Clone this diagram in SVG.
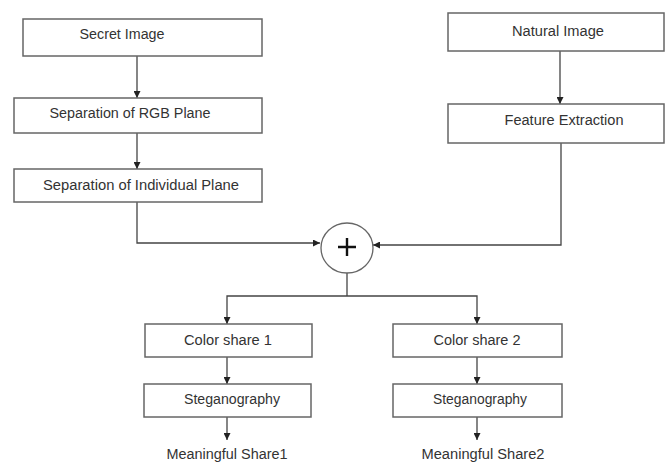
<svg xmlns="http://www.w3.org/2000/svg" width="665" height="462" viewBox="0 0 665 462">
<defs>
<marker id="ah" viewBox="0 0 10 10" refX="10" refY="5" markerWidth="7" markerHeight="7" markerUnits="userSpaceOnUse" orient="auto">
<path d="M0,0 L10,5 L0,10 z" fill="#222"/>
</marker>
<style>
.box{fill:#fff;stroke:#666;stroke-width:1.5}
.t{font-family:"Liberation Sans",Arial,sans-serif;font-size:14px;fill:#333;text-anchor:middle}
.c{fill:none;stroke:#444;stroke-width:1.3}
</style>
</defs>
<rect width="665" height="462" fill="#fff"/>
<g id="connectors">
<line class="c" x1="137" y1="56" x2="137" y2="98" marker-end="url(#ah)"/>
<line class="c" x1="137" y1="133" x2="137" y2="169" marker-end="url(#ah)"/>
<polyline class="c" points="137,202 137,243 320,243" marker-end="url(#ah)"/>
<line class="c" x1="560" y1="51" x2="560" y2="104" marker-end="url(#ah)"/>
<polyline class="c" points="561,143 561,245 373,245" marker-end="url(#ah)"/>
<line class="c" x1="347" y1="272" x2="347" y2="296"/>
<polyline class="c" points="347,296 227,296 227,324" marker-end="url(#ah)"/>
<polyline class="c" points="347,296 477,296 477,324" marker-end="url(#ah)"/>
<line class="c" x1="227" y1="357" x2="227" y2="384" marker-end="url(#ah)"/>
<line class="c" x1="477" y1="357" x2="477" y2="384" marker-end="url(#ah)"/>
<line class="c" x1="227" y1="417" x2="227" y2="440" marker-end="url(#ah)"/>
<line class="c" x1="477" y1="417" x2="477" y2="440" marker-end="url(#ah)"/>
</g>
<g id="secret"><rect class="box" x="23" y="19" width="239" height="37"/><text class="t" x="122" y="39" textLength="85" lengthAdjust="spacingAndGlyphs">Secret Image</text></g>
<g id="rgb"><rect class="box" x="14" y="98" width="248" height="35"/><text class="t" x="130" y="118" textLength="161" lengthAdjust="spacingAndGlyphs">Separation of RGB Plane</text></g>
<g id="individual"><rect class="box" x="14" y="169" width="248" height="33"/><text class="t" x="141" y="190" textLength="196" lengthAdjust="spacingAndGlyphs">Separation of Individual Plane</text></g>
<g id="natural"><rect class="box" x="448" y="13" width="216" height="38"/><text class="t" x="558" y="36" textLength="92" lengthAdjust="spacingAndGlyphs">Natural Image</text></g>
<g id="feature"><rect class="box" x="448" y="104" width="216" height="39"/><text class="t" x="564" y="125" textLength="119" lengthAdjust="spacingAndGlyphs">Feature Extraction</text></g>
<g id="sum"><ellipse cx="347" cy="248" rx="26" ry="25" fill="#fff" stroke="#666" stroke-width="1.3"/><path d="M338,247 H356 M347,238 V256" stroke="#111" stroke-width="2.4"/></g>
<g id="cs1"><rect class="box" x="145" y="324" width="167" height="33"/><text class="t" x="228" y="345" textLength="88" lengthAdjust="spacingAndGlyphs">Color share 1</text></g>
<g id="cs2"><rect class="box" x="393" y="324" width="169" height="33"/><text class="t" x="477" y="345" textLength="87" lengthAdjust="spacingAndGlyphs">Color share 2</text></g>
<g id="steg1"><rect class="box" x="144" y="384" width="167" height="33"/><text class="t" x="232" y="404" textLength="96" lengthAdjust="spacingAndGlyphs">Steganography</text></g>
<g id="steg2"><rect class="box" x="393" y="384" width="169" height="33"/><text class="t" x="480" y="404" textLength="94" lengthAdjust="spacingAndGlyphs">Steganography</text></g>
<g id="ms1"><text class="t" x="227" y="459" textLength="121" lengthAdjust="spacingAndGlyphs">Meaningful Share1</text></g>
<g id="ms2"><text class="t" x="483" y="459" textLength="123" lengthAdjust="spacingAndGlyphs">Meaningful Share2</text></g>
</svg>
